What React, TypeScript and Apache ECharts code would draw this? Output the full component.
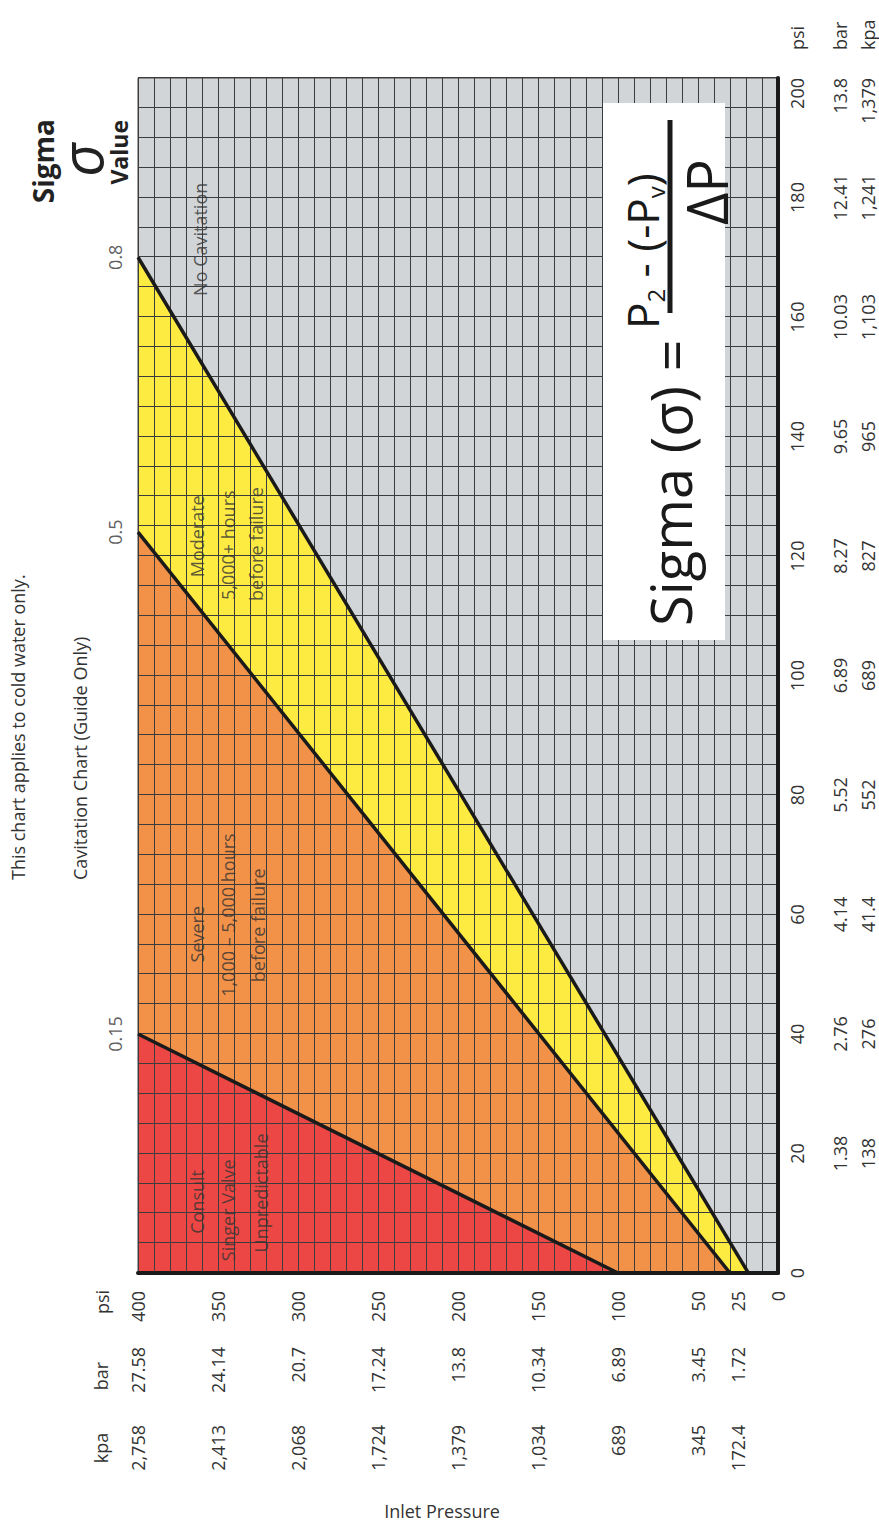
import React, { useEffect, useRef } from 'react';
import * as echarts from 'echarts';

const FONT = "'Open Sans', 'DejaVu Sans', sans-serif";
const TEXT = '#333333';

// Pressure drop (ΔP) axis
const dropTicks = [0, 20, 40, 60, 80, 100, 120, 140, 160, 180, 200];
const dropPsi = ['0', '20', '40', '60', '80', '100', '120', '140', '160', '180', '200'];
const dropBar = ['', '1.38', '2.76', '4.14', '5.52', '6.89', '8.27', '9.65', '10.03', '12.41', '13.8'];
const dropKpa = ['', '138', '276', '41.4', '552', '689', '827', '965', '1,103', '1,241', '1,379'];

// Inlet pressure axis
const inletTicks = [0, 25, 50, 100, 150, 200, 250, 300, 350, 400];
const inletPsi = ['0', '25', '50', '100', '150', '200', '250', '300', '350', '400'];
const inletBar = ['', '1.72', '3.45', '6.89', '10.34', '13.8', '17.24', '20.7', '24.14', '27.58'];
const inletKpa = ['', '172.4', '345', '689', '1,034', '1,379', '1,724', '2,068', '2,413', '2,758'];

// Boundary lines [ΔP, inlet psi]
const unpredictableLine = [[0, 100], [40, 400]];
const severeLine = [[0, 30], [124, 400]];
const moderateLine = [[0, 18.5], [170, 400]];
const sigmaValues = ['0.15', '0.5', '0.8'];

// Region labels [ΔP, inlet psi]
const regionLabels = [
  { name: 'No Cavitation', value: [173, 361] },
  { name: 'Moderate', value: [123.3, 363] },
  { name: '5,000+ hours', value: [121.8, 344] },
  { name: 'before failure', value: [122, 326] },
  { name: 'Severe', value: [56.7, 363] },
  { name: '1,000 – 5,000 hours', value: [59.9, 344] },
  { name: 'before failure', value: [58.2, 325] },
  { name: 'Consult', value: [11.9, 363] },
  { name: 'Singer Valve', value: [10.5, 344] },
  { name: 'Unpredictable', value: [13.4, 323] },
];

const RED = '#ec4744';
const ORANGE = '#f29148';
const YELLOW = '#fdeb42';
const GRAY = '#d1d5d8';
const GRIDLINE = '#3c3c3c';

const pick = (ticks: number[], labels: string[]) => (v: number) => {
  const i = ticks.indexOf(Math.round(v * 1000) / 1000);
  return i >= 0 ? labels[i] : '';
};

export default function App() {
  const ref = useRef<HTMLDivElement>(null);
  useEffect(() => {
    const chart = echarts.init(ref.current!, null, { renderer: 'svg', width: 1524, height: 879 });
    const labelStyle = { fontSize: 18, color: TEXT, fontFamily: FONT };
    const hiddenAxis = {
      axisLine: { show: false },
      axisTick: { show: false },
      splitLine: { show: false },
    };
    const xExtra = (margin: number, labels: string[]) => ({
      type: 'value', min: 0, max: 200, interval: 20, position: 'bottom', gridIndex: 0,
      ...hiddenAxis,
      axisLabel: { ...labelStyle, margin, alignMaxLabel: 'right', formatter: pick(dropTicks, labels) },
    });
    const yExtra = (margin: number, labels: string[]) => ({
      type: 'value', min: 0, max: 400, interval: 25, position: 'left', gridIndex: 0,
      ...hiddenAxis,
      axisLabel: { ...labelStyle, margin, formatter: pick(inletTicks, labels) },
    });
    const areaSeries = (data: number[][], color: string) => ({
      type: 'line', data, symbol: 'none', z: 2,
      lineStyle: { width: 0 },
      areaStyle: { color, opacity: 1, origin: 'end' },
      silent: true,
    });
    const borderSeries = (data: number[][]) => ({
      type: 'line', data, symbol: 'none', z: 6,
      lineStyle: { width: 3.5, color: '#1a1a1a' },
      silent: true,
    });
    const txt = (x: number, y: number, text: string, extra: any = {}) => ({
      type: 'text', x, y, z: 120,
      style: {
        text, fill: TEXT, fontFamily: FONT, fontSize: 18,
        textAlign: 'center', textVerticalAlign: 'middle',
        align: 'center', verticalAlign: 'middle',
        ...extra,
      },
    });
    const option: any = {
      animation: false,
      textStyle: { fontFamily: FONT },
      grid: {
        left: 251, right: 78, top: 138, bottom: 101,
        show: true, backgroundColor: GRAY, borderColor: '#444', borderWidth: 1,
      },
      xAxis: [
        {
          type: 'value', min: 0, max: 200, interval: 20, position: 'bottom', z: 4,
          axisLine: { show: true, onZero: false, lineStyle: { color: '#1a1a1a', width: 4 } },
          axisTick: { show: false },
          minorTick: { show: false, splitNumber: 4 },
          splitLine: { show: true, lineStyle: { color: GRIDLINE, width: 1 } },
          minorSplitLine: { show: true, lineStyle: { color: GRIDLINE, width: 1 } },
          axisLabel: { ...labelStyle, margin: 10, alignMaxLabel: 'right', formatter: pick(dropTicks, dropPsi) },
        },
        xExtra(53, dropBar),
        xExtra(81, dropKpa),
      ],
      yAxis: [
        {
          type: 'value', min: 0, max: 400, interval: 10, position: 'left', z: 4,
          axisLine: { show: true, onZero: false, lineStyle: { color: '#1a1a1a', width: 4 } },
          axisTick: { show: false },
          splitLine: { show: true, lineStyle: { color: GRIDLINE, width: 1 } },
          axisLabel: { show: false },
        },
        yExtra(18, inletPsi),
        yExtra(74, inletBar),
        yExtra(152, inletKpa),
      ],
      series: [
        areaSeries(moderateLine, YELLOW),
        areaSeries(severeLine, ORANGE),
        areaSeries(unpredictableLine, RED),
        borderSeries(moderateLine),
        borderSeries(severeLine),
        borderSeries(unpredictableLine),
        {
          type: 'scatter', symbolSize: 0, z: 7, silent: true,
          data: [unpredictableLine, severeLine, moderateLine].map((l, i) => ({
            name: sigmaValues[i], value: l[l.length - 1],
          })),
          label: { show: true, position: 'top', distance: 14, formatter: '{b}', ...labelStyle },
        },
        {
          type: 'scatter', symbolSize: 0, z: 7, silent: true,
          data: regionLabels,
          label: { show: true, position: 'inside', formatter: '{b}', ...labelStyle },
        },
      ],
      graphic: [
        { type: 'rect', z: 110, shape: { x: 884, y: 603, width: 537, height: 122 }, style: { fill: '#ffffff' } },
        txt(898, 670, 'Sigma (σ) =', { fontSize: 56, textAlign: 'left', align: 'left', fill: '#1a1a1a' }),
        {
          type: 'text', x: 1195, y: 642, z: 120,
          style: {
            text: '{a|P}{b|2}{a| - (-P}{b|v}{a|)}',
            fontFamily: FONT, fill: '#1a1a1a', textAlign: 'left', align: 'left',
            textVerticalAlign: 'middle', verticalAlign: 'middle',
            rich: {
              a: { fontSize: 44, fontFamily: FONT, fill: '#1a1a1a', color: '#1a1a1a', lineHeight: 50 },
              b: { fontSize: 24, fontFamily: FONT, fill: '#1a1a1a', color: '#1a1a1a', verticalAlign: 'bottom', lineHeight: 50, padding: [14, 0, 0, 0] },
            },
          },
        },
        { type: 'rect', z: 120, shape: { x: 1211, y: 667.5, width: 193, height: 5 }, style: { fill: '#1a1a1a' } },
        txt(1332, 706, 'ΔP', { fontSize: 56, fill: '#1a1a1a' }),
        // Titles
        txt(644, 18, 'This chart applies to cold water only.', { textAlign: 'left', align: 'left' }),
        txt(644, 80, 'Cavitation Chart (Guide Only)', { textAlign: 'left', align: 'left' }),
        // Sigma Value header
        txt(1405, 43, 'Sigma', { fontSize: 28, fontWeight: 'bold', fill: '#222', textAlign: 'right', align: 'right' }),
        txt(1364, 80, 'σ', { fontSize: 58, fontStyle: 'italic', fill: '#222' }),
        txt(1404, 119, 'Value', { fontSize: 23, fontWeight: 'bold', fill: '#222', textAlign: 'right', align: 'right' }),
        // Units for pressure-drop rows
        txt(1474, 797, 'psi', { textAlign: 'left', align: 'left' }),
        txt(1474, 840, 'bar', { textAlign: 'left', align: 'left' }),
        txt(1474, 868, 'kpa', { textAlign: 'left', align: 'left' }),
        // Units for inlet rows
        txt(222, 102, 'psi'),
        txt(148, 101, 'bar'),
        txt(76, 101, 'kpa'),
        // Inlet Pressure title
        { ...txt(13, 442, 'Inlet Pressure'), rotation: -Math.PI / 2 },
      ],
    };
    chart.setOption(option);
    return () => chart.dispose();
  }, []);
  return (
    <div style={{ position: 'absolute', left: 0, top: 0, width: 879, height: 1524, overflow: 'hidden', background: '#fff' }}>
      <div
        ref={ref}
        style={{
          position: 'absolute', left: 0, top: 0, width: 1524, height: 879,
          transformOrigin: '0 0', transform: 'translateY(1524px) rotate(-90deg)',
        }}
      />
    </div>
  );
}
